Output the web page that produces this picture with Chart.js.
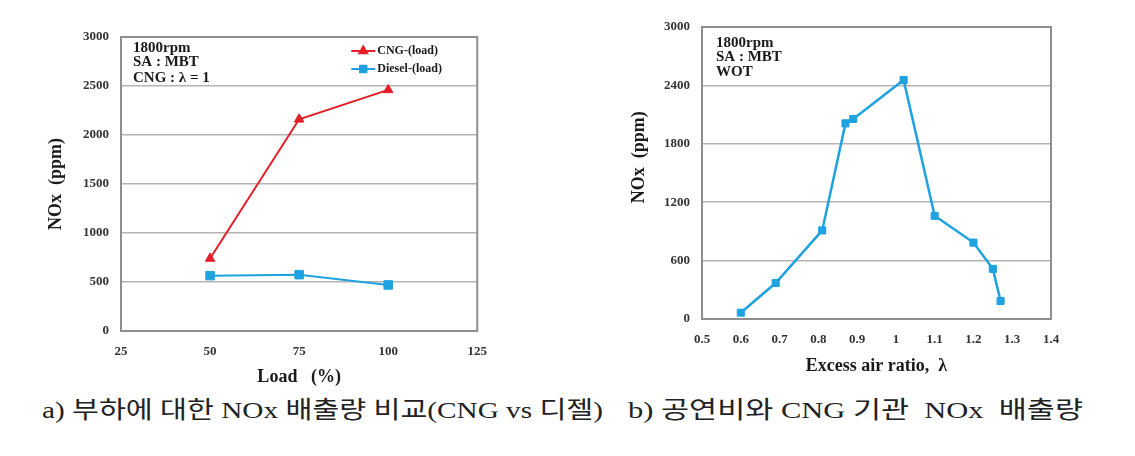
<!DOCTYPE html>
<html><head><meta charset="utf-8">
<script src="https://cdn.jsdelivr.net/npm/chart.js@4"></script>
<style>
body{margin:0;background:#fff;width:1135px;height:456px;overflow:hidden;position:relative}
#wa{position:absolute;left:0;top:0;width:500px;height:392px}
#wb{position:absolute;left:620px;top:0;width:515px;height:392px}
.cap{position:absolute;top:395px;font-size:24px;line-height:30px;white-space:pre;font-family:"Liberation Serif","Noto Sans CJK KR",serif;color:#222;transform-origin:0 0}
</style></head>
<body>
<div id="wa"><canvas id="ca"></canvas></div>
<div id="wb"><canvas id="cb"></canvas></div>
<div class="cap" id="capA">a) 부하에 대한 NOx 배출량 비교(CNG vs 디젤)</div>
<div class="cap" id="capB">b) 공연비와 CNG 기관  NOx  배출량</div>
<script>
// ---- data (a) ----
const loadValues = [50, 75, 100];
const cngNOx = [740, 2160, 2460];
const dieselNOx = [565, 575, 470];
const loadTicks = [25, 50, 75, 100, 125];
const noxTicksA = [0, 500, 1000, 1500, 2000, 2500, 3000];
const seriesNamesA = ['CNG-(load)', 'Diesel-(load)'];
const notesA = ['1800rpm', 'SA : MBT', 'CNG : λ = 1'];
// ---- data (b) ----
const lambdaValues = [0.60, 0.69, 0.81, 0.87, 0.89, 1.02, 1.10, 1.20, 1.25, 1.27];
const lambdaNOx = [65, 370, 910, 2010, 2055, 2455, 1060, 785, 515, 185];
const lambdaTicks = [0.5, 0.6, 0.7, 0.8, 0.9, 1.0, 1.1, 1.2, 1.3, 1.4];
const lambdaTickLabels = ['0.5', '0.6', '0.7', '0.8', '0.9', '1', '1.1', '1.2', '1.3', '1.4'];
const noxTicksB = [0, 600, 1200, 1800, 2400, 3000];
const notesB = ['1800rpm', 'SA : MBT', 'WOT'];

const SERIF = '"Liberation Serif", "Times New Roman", serif';
const RED = '#e61e28';
const BLUE = '#1ea2e0';

function pts(xs, ys) { return xs.map((x, i) => ({ x: x, y: ys[i] })); }

const borderPlugin = {
  id: 'frame',
  beforeDatasetsDraw(chart) {
    const { ctx, chartArea: a } = chart;
    ctx.save();
    ctx.strokeStyle = '#8e8e8e';
    ctx.lineWidth = 2;
    ctx.strokeRect(a.left, a.top, a.right - a.left, a.bottom - a.top);
    ctx.restore();
  }
};

function notesPlugin(lines, dx, dys) {
  return {
    id: 'notes',
    afterDatasetsDraw(chart) {
      const { ctx, chartArea: a } = chart;
      ctx.save();
      ctx.font = 'bold 15px ' + SERIF;
      ctx.fillStyle = '#1a1a1a';
      ctx.textBaseline = 'middle';
      ctx.textAlign = 'left';
      lines.forEach((t, i) => ctx.fillText(t, a.left + dx, a.top + dys[i]));
      ctx.restore();
    }
  };
}

const legendPlugin = {
  id: 'inLegend',
  afterDatasetsDraw(chart) {
    const { ctx, chartArea: a } = chart;
    const rows = [14, 32];
    ctx.save();
    chart.data.datasets.forEach((ds, i) => {
      const y = a.top + rows[i];
      const x0 = a.right - 126, x1 = a.right - 102;
      ctx.strokeStyle = ds.borderColor;
      ctx.lineWidth = 2;
      ctx.beginPath(); ctx.moveTo(x0, y); ctx.lineTo(x1, y); ctx.stroke();
      ctx.fillStyle = ds.backgroundColor;
      Chart.helpers.drawPoint(ctx, { pointStyle: ds.pointStyle, radius: 4.5, rotation: 0, borderWidth: 1 }, (x0 + x1) / 2, y);
      ctx.font = 'bold 12px ' + SERIF;
      ctx.fillStyle = '#1a1a1a';
      ctx.textBaseline = 'middle';
      ctx.fillText(ds.label, x1 + 2, y);
    });
    ctx.restore();
  }
};

function axes(xMin, xMax, xTicks, xLabelFn, xTitle, yTicks, yTitle, yW, xH, yPad) {
  return {
    x: {
      type: 'linear', min: xMin, max: xMax,
      afterBuildTicks: s => { s.ticks = xTicks.map(v => ({ value: v })); },
      afterFit: s => { s.height = xH; },
      grid: { display: false, drawTicks: false },
      border: { display: false },
      ticks: { padding: 13, color: '#333', font: { family: SERIF, size: 13, weight: 'bold' }, maxRotation: 0, autoSkip: false, callback: xLabelFn },
      title: { display: true, text: xTitle, color: '#1a1a1a', padding: 0, font: { family: SERIF, size: 18, weight: 'bold' } }
    },
    y: {
      type: 'linear', min: yTicks[0], max: yTicks[yTicks.length - 1],
      afterBuildTicks: s => { s.ticks = yTicks.map(v => ({ value: v })); },
      afterFit: s => { s.width = yW; },
      grid: { color: '#b4b4b4', lineWidth: 1.5, drawTicks: false },
      border: { display: false },
      ticks: { padding: yPad, color: '#333', font: { family: SERIF, size: 13, weight: 'bold' }, autoSkip: false, callback: v => String(v) },
      title: { display: true, text: yTitle, color: '#1a1a1a', padding: 0, font: { family: SERIF, size: 18, weight: 'bold' } }
    }
  };
}

new Chart(document.getElementById('ca'), {
  type: 'line',
  data: {
    datasets: [
      { label: seriesNamesA[0], data: pts(loadValues, cngNOx), borderColor: RED, backgroundColor: RED, borderWidth: 2, pointStyle: 'triangle', pointRadius: 5.5, pointBorderWidth: 1, tension: 0 },
      { label: seriesNamesA[1], data: pts(loadValues, dieselNOx), borderColor: BLUE, backgroundColor: BLUE, borderWidth: 2, pointStyle: 'rect', pointRadius: 6, pointBorderWidth: 1, tension: 0 }
    ]
  },
  options: {
    responsive: true, maintainAspectRatio: false, animation: false,
    layout: { padding: { left: 46, right: 21, top: 37, bottom: 4 } },
    plugins: { legend: { display: false }, tooltip: { enabled: false } },
    scales: axes(25, 125, loadTicks, v => String(v), 'Load   (%)', noxTicksA, 'NOx  (ppm)', 75, 57, 12)
  },
  plugins: [borderPlugin, notesPlugin(notesA, 12, [11, 25, 41]), legendPlugin]
});

new Chart(document.getElementById('cb'), {
  type: 'line',
  data: {
    datasets: [
      { label: 'NOx', data: pts(lambdaValues, lambdaNOx), borderColor: BLUE, backgroundColor: BLUE, borderWidth: 2.5, pointStyle: 'rect', pointRadius: 5, pointBorderWidth: 1, tension: 0 }
    ]
  },
  options: {
    responsive: true, maintainAspectRatio: false, animation: false,
    layout: { padding: { left: 9, right: 84, top: 27, bottom: 15 } },
    plugins: { legend: { display: false }, tooltip: { enabled: false } },
    scales: axes(0.5, 1.4, lambdaTicks, (v, i) => lambdaTickLabels[i], 'Excess air ratio,  λ', noxTicksB, '       NOx  (ppm)', 73, 58, 12)
  },
  plugins: [borderPlugin, notesPlugin(notesB, 14, [16, 30, 45])]
});

function fitCaption(id, left, right) {
  const el = document.getElementById(id);
  el.style.left = left + 'px';
  const w = el.getBoundingClientRect().width;
  el.style.transform = 'scaleX(' + ((right - left) / w) + ')';
}
fitCaption('capA', 42, 603);
fitCaption('capB', 628, 1083);
</script>
</body></html>
